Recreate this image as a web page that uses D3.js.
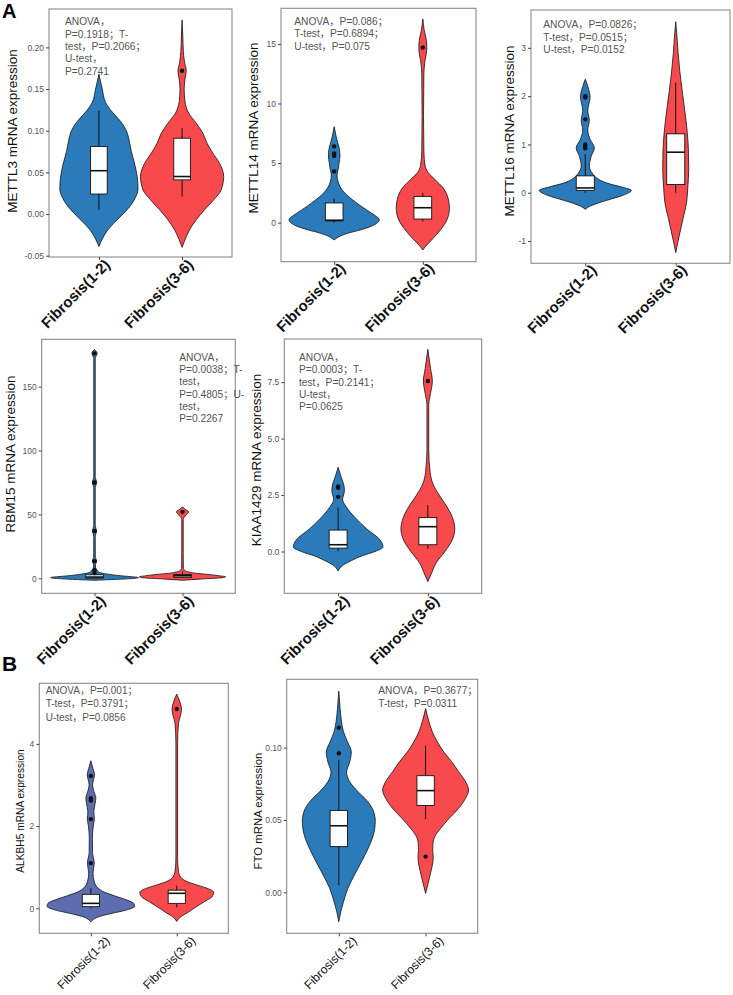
<!DOCTYPE html>
<html><head><meta charset="utf-8">
<script src="https://cdn.jsdelivr.net/npm/d3@7"></script>
<style>body{margin:0;background:#fff} svg{display:block}</style>
</head><body>
<svg id="fig" width="733" height="995"></svg>
<script>
// ---------------- DATA ----------------
const categories = ["Fibrosis(1-2)", "Fibrosis(3-6)"];

// violin profiles: [expression value, half-width in category units]
// box stats: [lower whisker, q1, median, q3, upper whisker]

// METTL3
const mettl3Ticks = [-0.05, 0.00, 0.05, 0.10, 0.15, 0.20];
const mettl3TickLabels = ["-0.05", "0.00", "0.05", "0.10", "0.15", "0.20"];
const mettl3Violin1 = [[-0.039,0],[-0.03,0.04],[-0.02,0.10],[-0.01,0.19],[0.0,0.29],[0.01,0.38],[0.02,0.44],[0.03,0.47],[0.045,0.46],[0.06,0.43],[0.075,0.39],[0.09,0.36],[0.10,0.33],[0.11,0.27],[0.118,0.20],[0.126,0.13],[0.134,0.08],[0.15,0.04],[0.168,0]];
const mettl3Violin2 = [[-0.040,0],[-0.031,0.035],[-0.019,0.09],[-0.007,0.17],[0.005,0.27],[0.017,0.38],[0.029,0.47],[0.045,0.50],[0.061,0.45],[0.073,0.37],[0.085,0.30],[0.097,0.25],[0.109,0.17],[0.121,0.08],[0.135,0.035],[0.15,0.025],[0.162,0.035],[0.172,0.05],[0.182,0.03],[0.195,0.015],[0.215,0.008],[0.233,0]];
const mettl3Box = [[0.005,0.024,0.052,0.081,0.124],[0.021,0.041,0.045,0.091,0.103]];
const mettl3Outliers = [[], [0.172]];
const mettl3Stats = ["ANOVA，", "P=0.1918；T-", "test，P=0.2066；", "U-test，", "P=0.2741"];

// METTL14
const mettl14Ticks = [0, 5, 10, 15];
const mettl14TickLabels = ["0", "5", "10", "15"];
const mettl14Violin1 = [[-1.45,0],[-1.2,0.05],[-0.9,0.15],[-0.6,0.30],[-0.3,0.42],[0.0,0.49],[0.25,0.51],[0.6,0.46],[1.0,0.38],[1.4,0.30],[1.9,0.21],[2.4,0.13],[2.9,0.075],[3.4,0.045],[4.0,0.032],[4.5,0.045],[5.0,0.055],[5.6,0.065],[6.2,0.058],[6.7,0.04],[7.3,0.02],[8.05,0]];
const mettl14Violin2 = [[-2.3,0],[-2.0,0.03],[-1.45,0.10],[-0.6,0.20],[0.2,0.27],[1.2,0.30],[1.9,0.29],[2.9,0.23],[3.6,0.14],[4.2,0.06],[4.8,0.025],[6,0.012],[9,0.008],[12.5,0.012],[13.6,0.025],[14.2,0.04],[14.7,0.045],[15.3,0.04],[16.2,0.015],[17.1,0]];
const mettl14Box = [[0.0,0.15,0.2,1.65,2.0],[0.1,0.3,1.25,2.2,2.5]];
const mettl14Outliers = [[4.3,5.6,5.8,6.4], [14.7]];
const mettl14Stats = ["ANOVA，P=0.086；", "T-test，P=0.6894；", "U-test，P=0.075"];

// METTL16
const mettl16Ticks = [-1, 0, 1, 2, 3];
const mettl16TickLabels = ["-1", "0", "1", "2", "3"];
const mettl16Violin1 = [[-0.34,0],[-0.28,0.05],[-0.22,0.13],[-0.15,0.25],[-0.05,0.42],[0.05,0.51],[0.12,0.40],[0.2,0.24],[0.3,0.13],[0.4,0.08],[0.55,0.045],[0.75,0.065],[0.93,0.10],[1.1,0.055],[1.3,0.028],[1.5,0.045],[1.7,0.028],[1.98,0.053],[2.2,0.028],[2.35,0]];
const mettl16Violin2 = [[-1.24,0],[-1.0,0.026],[-0.75,0.055],[-0.5,0.085],[-0.2,0.12],[0.1,0.133],[0.5,0.144],[0.9,0.14],[1.3,0.125],[1.7,0.10],[2.1,0.072],[2.5,0.046],[2.9,0.026],[3.2,0.015],[3.54,0]];
const mettl16Box = [[0.0,0.05,0.10,0.35,0.8],[0.0,0.17,0.84,1.22,2.28]];
const mettl16Outliers = [[0.92,0.97,1.0,1.52,1.97,2.0], []];
const mettl16Stats = ["ANOVA，P=0.0826；", "T-test，P=0.0515；", "U-test，P=0.0152"];

// RBM15
const rbm15Ticks = [0, 50, 100, 150];
const rbm15TickLabels = ["0", "50", "100", "150"];
const rbm15Violin1 = [[-1.5,0],[-0.8,0.25],[0,0.45],[0.6,0.50],[1.3,0.42],[2,0.3],[3,0.18],[4,0.09],[5,0.045],[6.5,0.03],[8,0.012],[10.5,0.01],[13.5,0.025],[16.5,0.009],[33,0.008],[37,0.025],[41,0.008],[71,0.008],[75,0.025],[79,0.008],[172,0.008],[176,0.03],[179,0]];
const rbm15Violin2 = [[-1.5,0],[-0.5,0.22],[0.5,0.45],[1.2,0.49],[2,0.42],[3,0.3],[4,0.15],[5,0.07],[6,0.03],[8,0.01],[20,0.008],[46,0.008],[49.5,0.04],[52,0.07],[54,0.03],[56,0]];
const rbm15Box = [[0.0,0.3,1.0,2.8,3.4],[0.1,0.8,2.0,3.0,5.5]];
const rbm15Outliers = [[4.2,6.5,13.5,37,75,176], [52]];
const rbm15Stats = ["ANOVA，", "P=0.0038；T-", "test，", "P=0.4805；U-", "test，", "P=0.2267"];

// KIAA1429
const kiaaTicks = [0, 2.5, 5, 7.5];
const kiaaTickLabels = ["0.0", "2.5", "5.0", "7.5"];
const kiaaViolin1 = [[-0.86,0],[-0.6,0.056],[-0.4,0.15],[-0.2,0.26],[0.0,0.41],[0.2,0.50],[0.5,0.47],[1.0,0.32],[1.5,0.19],[2.0,0.087],[2.3,0.05],[2.7,0.07],[3.0,0.06],[3.3,0.033],[3.73,0]];
const kiaaViolin2 = [[-1.33,0],[-1.0,0.037],[-0.5,0.093],[0.0,0.19],[0.5,0.27],[1.0,0.30],[1.5,0.275],[2.0,0.21],[2.5,0.126],[3.0,0.056],[3.5,0.026],[4.5,0.01],[6.5,0.01],[7.0,0.03],[7.55,0.05],[8.1,0.03],[8.95,0]];
const kiaaBox = [[0.02,0.15,0.3,0.95,1.95],[0.12,0.3,1.1,1.5,2.05]];
const kiaaOutliers = [[2.42,2.82,2.88], [7.55]];
const kiaaStats = ["ANOVA，", "P=0.0003；T-", "test，P=0.2141；", "U-test，", "P=0.0625"];

// ALKBH5
const alkbh5Ticks = [0, 2, 4];
const alkbh5TickLabels = ["0", "2", "4"];
const alkbh5Violin1 = [[-0.33,0],[-0.2,0.10],[-0.12,0.25],[-0.05,0.40],[0.05,0.51],[0.12,0.50],[0.2,0.42],[0.3,0.28],[0.4,0.15],[0.5,0.08],[0.65,0.04],[0.85,0.025],[1.1,0.04],[1.35,0.02],[1.7,0.018],[2.0,0.028],[2.17,0.04],[2.35,0.035],[2.55,0.05],[2.68,0.058],[2.85,0.035],[3.0,0.02],[3.25,0.042],[3.4,0.025],[3.59,0]];
const alkbh5Violin2 = [[-0.32,0],[-0.2,0.05],[-0.1,0.13],[0.0,0.20],[0.16,0.32],[0.28,0.41],[0.39,0.43],[0.49,0.35],[0.57,0.23],[0.65,0.12],[0.75,0.05],[0.9,0.02],[1.2,0.01],[4.0,0.01],[4.5,0.02],[4.7,0.045],[4.85,0.055],[5.0,0.04],[5.21,0]];
const alkbh5Box = [[0.0,0.04,0.12,0.34,0.49],[0.02,0.12,0.365,0.44,0.55]];
const alkbh5Outliers = [[1.1,2.17,2.62,2.68,3.22], [4.85]];
const alkbh5Stats = ["ANOVA，P=0.001；", "T-test，P=0.3791；", "U-test，P=0.0856"];

// FTO
const ftoTicks = [0, 0.05, 0.10];
const ftoTickLabels = ["0.00", "0.05", "0.10"];
const ftoViolin1 = [[-0.0203,0],[-0.0134,0.023],[-0.0065,0.054],[0.0028,0.105],[0.012,0.18],[0.021,0.26],[0.030,0.335],[0.040,0.40],[0.049,0.42],[0.056,0.40],[0.063,0.33],[0.0696,0.22],[0.0765,0.125],[0.083,0.09],[0.090,0.125],[0.097,0.144],[0.104,0.10],[0.111,0.054],[0.118,0.031],[0.127,0.015],[0.139,0]];
const ftoViolin2 = [[-0.0007,0],[0.006,0.028],[0.012,0.052],[0.018,0.075],[0.024,0.088],[0.029,0.082],[0.034,0.085],[0.039,0.11],[0.044,0.17],[0.051,0.27],[0.058,0.38],[0.065,0.46],[0.0707,0.495],[0.0765,0.46],[0.0834,0.38],[0.0903,0.30],[0.097,0.21],[0.104,0.135],[0.111,0.077],[0.118,0.038],[0.127,0]];
const ftoBox = [[0.005,0.0316,0.046,0.0565,0.0915],[0.0507,0.060,0.0703,0.0806,0.1014]];
const ftoOutliers = [[0.0961,0.1138], [0.0247]];
const ftoStats = ["ANOVA，P=0.3677；", "T-test，P=0.0311"];

// ---------------- LAYOUT / STYLE ----------------
const BLUE = "#2b7bba", RED = "#f84a4c", SLATE = "#5d6db0";
const panels = [
  {title:"METTL3 mRNA expression", ticks:mettl3Ticks, tl:mettl3TickLabels, v:[mettl3Violin1,mettl3Violin2], box:mettl3Box, out:mettl3Outliers, stats:mettl3Stats,
   frame:[49,9,232,257], yDom:[-0.0516,0.2461], tx:12, ty:131, ts:13.5, sx:65, sy:25.4, sdy:12.3, ss:10.2, xs:15, xw:"bold", c1:BLUE, lx:4, ly:1},
  {title:"METTL14 mRNA expression", ticks:mettl14Ticks, tl:mettl14TickLabels, v:[mettl14Violin1,mettl14Violin2], box:mettl14Box, out:mettl14Outliers, stats:mettl14Stats,
   frame:[281,8.3,476,261.7], yDom:[-3.28,17.99], tx:253, ty:128, ts:13.5, sx:294.3, sy:24.7, sdy:12.5, ss:10.2, xs:15, xw:"bold", c1:BLUE, lx:4, ly:0},
  {title:"METTL16 mRNA expression", ticks:mettl16Ticks, tl:mettl16TickLabels, v:[mettl16Violin1,mettl16Violin2], box:mettl16Box, out:mettl16Outliers, stats:mettl16Stats,
   frame:[531,10,730,263.3], yDom:[-1.46,3.783], tx:509, ty:131, ts:13.5, sx:543.3, sy:28, sdy:12.5, ss:10.2, xs:15, xw:"bold", c1:BLUE, lx:4, ly:0},
  {title:"RBM15 mRNA expression", ticks:rbm15Ticks, tl:rbm15TickLabels, v:[rbm15Violin1,rbm15Violin2], box:rbm15Box, out:rbm15Outliers, stats:rbm15Stats,
   frame:[41.7,339.3,235.3,593.3], yDom:[-11.7,187.0], tx:10, ty:454, ts:13.5, sx:179.3, sy:361, sdy:12.2, ss:10.2, xs:15, xw:"bold", c1:BLUE, lx:4, ly:1},
  {title:"KIAA1429 mRNA expression", ticks:kiaaTicks, tl:kiaaTickLabels, v:[kiaaViolin1,kiaaViolin2], box:kiaaBox, out:kiaaOutliers, stats:kiaaStats,
   frame:[284.3,339,481.7,593.3], yDom:[-1.85,9.41], tx:256, ty:460, ts:13.5, sx:299, sy:361, sdy:12.3, ss:10.2, xs:15, xw:"bold", c1:BLUE, lx:4, ly:1},
  {title:"ALKBH5 mRNA expression", ticks:alkbh5Ticks, tl:alkbh5TickLabels, v:[alkbh5Violin1,alkbh5Violin2], box:alkbh5Box, out:alkbh5Outliers, stats:alkbh5Stats,
   frame:[39.3,683.3,228.3,933.3], yDom:[-0.608,5.474], tx:20, ty:811, ts:10.2, sx:45.7, sy:693.7, sdy:13.6, ss:10, xs:12.2, xw:"normal", c1:SLATE, lx:13, ly:2},
  {title:"FTO mRNA expression", ticks:ftoTicks, tl:ftoTickLabels, v:[ftoViolin1,ftoViolin2], box:ftoBox, out:ftoOutliers, stats:ftoStats,
   frame:[286.7,679.3,477.7,933.3], yDom:[-0.0283,0.1472], tx:258, ty:811, ts:11.4, sx:378.3, sy:693.7, sdy:13.3, ss:10.2, xs:12.2, xw:"normal", c1:BLUE, lx:12, ly:2}
];

const svg = d3.select("#fig");
const SANS = "'Liberation Sans', Arial, sans-serif";
const STAT = "'Liberation Sans', 'Noto Sans CJK SC', sans-serif";

function drawPanel(p){
  const g = svg.append("g");
  const [fx0, fy0, fx1, fy1] = p.frame;
  const x = d3.scaleLinear().domain([0.4, 2.6]).range([fx0, fx1]);
  const y = d3.scaleLinear().domain(p.yDom).range([fy1, fy0]);
  const colors = [p.c1, RED];

  const plot = g.append("g");
  p.v.forEach((prof, i) => {
    const c = i + 1;
    const area = d3.area().curve(d3.curveMonotoneY)
      .y(d => y(d[0])).x0(d => x(c - d[1])).x1(d => x(c + d[1]));
    plot.append("path").datum(prof).attr("d", area)
      .attr("fill", colors[i]).attr("stroke", "#111").attr("stroke-width", 0.8);
  });
  p.box.forEach((b, i) => {
    const c = i + 1, [lo, q1, md, q3, hi] = b;
    plot.append("line").attr("x1", x(c)).attr("x2", x(c)).attr("y1", y(lo)).attr("y2", y(q1)).attr("stroke", "#111").attr("stroke-width", 1);
    plot.append("line").attr("x1", x(c)).attr("x2", x(c)).attr("y1", y(q3)).attr("y2", y(hi)).attr("stroke", "#111").attr("stroke-width", 1);
    plot.append("rect").attr("x", x(c - 0.1)).attr("width", x(c + 0.1) - x(c - 0.1))
      .attr("y", y(q3)).attr("height", Math.max(0.5, y(q1) - y(q3)))
      .attr("fill", "#fff").attr("stroke", "#111").attr("stroke-width", 0.9);
    plot.append("line").attr("x1", x(c - 0.1)).attr("x2", x(c + 0.1)).attr("y1", y(md)).attr("y2", y(md)).attr("stroke", "#111").attr("stroke-width", 1.6);
  });
  p.out.forEach((arr, i) => {
    plot.selectAll(null).data(arr).enter().append("circle")
      .attr("cx", x(i + 1)).attr("cy", d => y(d)).attr("r", 2.2).attr("fill", "#111");
  });

  // frame
  g.append("rect").attr("x", fx0).attr("y", fy0).attr("width", fx1 - fx0).attr("height", fy1 - fy0)
    .attr("fill", "none").attr("stroke", "#8a8a8a").attr("stroke-width", 1.1);

  // y axis
  const ya = g.append("g").attr("transform", `translate(${fx0},0)`)
    .call(d3.axisLeft(y).tickValues(p.ticks).tickFormat((d, i) => p.tl[i]).tickSize(3).tickPadding(2));
  ya.select(".domain").remove();
  ya.selectAll(".tick line").attr("stroke", "#444");
  ya.selectAll(".tick text").attr("fill", "#555").style("font-family", SANS).style("font-size", "8.5px");

  // x axis
  const xa = g.append("g").attr("transform", `translate(0,${fy1})`)
    .call(d3.axisBottom(x).tickValues([1, 2]).tickFormat((d, i) => categories[i]).tickSize(3));
  xa.select(".domain").remove();
  xa.selectAll(".tick line").attr("stroke", "#444");
  xa.selectAll(".tick text")
    .attr("fill", "#111").style("font-family", SANS).style("font-size", p.xs + "px").style("font-weight", p.xw)
    .attr("text-anchor", "end").attr("x", 0).attr("y", 0).attr("dy", "0.72em")
    .attr("transform", `translate(${p.lx},${p.ly}) rotate(-45)`);

  // y title
  g.append("text").attr("transform", `translate(${p.tx},${p.ty}) rotate(-90)`)
    .attr("text-anchor", "middle").attr("dominant-baseline", "central")
    .style("font-family", SANS).style("font-size", p.ts + "px").attr("fill", "#111").text(p.title);

  // stats annotation, one text per line
  p.stats.forEach((line, i) => {
    g.append("text").attr("x", p.sx).attr("y", p.sy + i * p.sdy)
      .style("font-family", STAT).style("font-size", p.ss + "px").attr("fill", "#555").text(line);
  });
}

panels.forEach(drawPanel);

svg.append("text").attr("x", 2).attr("y", 18.4).style("font-family", SANS).style("font-weight", "bold").style("font-size", "20px").text("A");
svg.append("text").attr("x", 2).attr("y", 671).style("font-family", SANS).style("font-weight", "bold").style("font-size", "21px").text("B");
</script>
</body></html>
